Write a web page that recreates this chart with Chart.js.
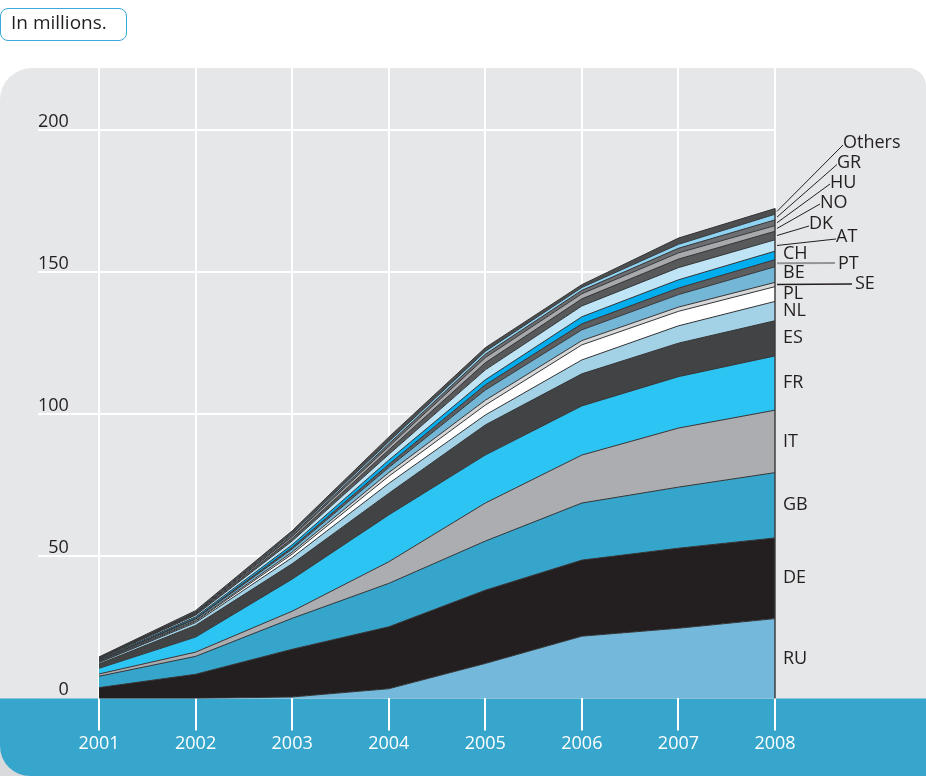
<!DOCTYPE html>
<html>
<head>
<meta charset="utf-8">
<script src="https://cdn.jsdelivr.net/npm/chart.js@4.4.1/dist/chart.umd.min.js"></script>
<style>
html,body{margin:0;padding:0;background:#fff;}
#wrap{position:relative;width:926px;height:776px;overflow:hidden;}
canvas{position:absolute;left:0;top:0;}
#unit{position:absolute;left:0;top:8px;width:127px;height:33px;box-sizing:border-box;border:1.5px solid #3aa8d8;border-radius:8px;font-family:'Open Sans',sans-serif;font-size:19px;color:#231f20;padding-left:10px;line-height:27px;background:#fff;}
</style>
</head>
<body>
<div id="wrap">
<canvas id="c" width="926" height="776"></canvas>
<div id="unit">In millions.</div>
</div>
<script>
// ---- data ----
const years = [2001, 2002, 2003, 2004, 2005, 2006, 2007, 2008];
const yTicks = [0, 50, 100, 150, 200];
const seriesNames = ['RU','DE','GB','IT','FR','ES','NL','PL','SE','BE','PT','CH','AT','DK','NO','HU','GR','Others'];
const RU     = [0,    0,   0.5,  3.4, 12.3, 21.9, 24.7, 28.1];
const DE     = [3.8,  8.5, 16.8, 21.8, 25.8, 26.8, 28.2, 28.4];
const GB     = [4.0,  6.3, 10.9, 15.3, 17.3, 20.1, 21.5, 23.0];
const IT     = [0.8,  1.5,  2.5,  7.6, 13.4, 16.9, 20.8, 22.0];
const FR     = [2.0,  5.3, 11.3, 16.5, 16.9, 17.3, 18.1, 19.1];
const ES     = [1.5,  4.1,  5.4,  7.6, 10.6, 11.3, 11.8, 12.4];
const NL     = [0.5,  1.0,  2.2,  3.5,  3.5,  4.9,  6.1,  6.8];
const PL     = [0.1,  0.4,  1.2,  2.5,  3.5,  5.3,  5.1,  5.2];
const SE     = [0.3,  0.3,  0.7,  1.3,  1.7,  1.5,  1.5,  1.5];
const BE     = [0.2,  0.5,  1.1,  1.8,  3.6,  3.8,  4.4,  5.5];
const PT     = [0.15, 0.3,  0.6,  1.1,  1.8,  2.1,  2.3,  2.5];
const CH     = [0.3,  0.5,  0.9,  1.5,  1.8,  2.5,  2.9,  3.0];
const AT     = [0.2,  0.6,  1.3,  2.0,  3.5,  3.8,  4.3,  4.0];
const DK     = [0.2,  0.4,  0.9,  1.6,  2.5,  2.5,  3.0,  3.0];
const NO     = [0.15, 0.3,  0.7,  1.2,  1.8,  1.8,  2.2,  2.0];
const HU     = [0.1,  0.2,  0.5,  0.9,  1.2,  1.2,  1.6,  2.0];
const GR     = [0.1,  0.2,  0.5,  0.8,  1.0,  1.0,  1.4,  2.0];
const Others = [0.2,  0.5,  1.0,  1.6,  1.3,  1.0,  2.2,  2.0];
const seriesValues = [RU, DE, GB, IT, FR, ES, NL, PL, SE, BE, PT, CH, AT, DK, NO, HU, GR, Others];

// ---- styles ----
const seriesColors = ['#74b9db','#231f20','#35a5cc','#abadb0','#2cc4f2','#414345','#a3d2e7','#ffffff','#d6d7d9','#74b6d6','#5d5e60','#00aeef','#bfe4f5','#58595b','#a7a9ac','#6d6e71','#8fd3f2','#4d4e50'];
const FONT = "'Open Sans', sans-serif";

const labelLayout = {
  RU: {dx: 8}, DE: {dx: 8}, GB: {dx: 8}, IT: {dx: 8}, FR: {dx: 8}, ES: {dx: 8}, NL: {dx: 8}, PL: {dx: 8},
  SE: {x: 855, y: 284, lead: [852, 284], lc: '#231f20', lw: 1.5},
  BE: {dx: 8, y: 273},
  PT: {x: 838, y: 263.5, lead: [835, 263], lc: '#939598', lw: 2},
  CH: {dx: 8, y: 254},
  AT: {x: 836, y: 236.5, lead: [836, 239], lc: '#231f20', lw: 1},
  DK: {x: 809, y: 224, lead: [809, 226], lc: '#231f20', lw: 1},
  NO: {x: 820, y: 202.5, lead: [820, 204], lc: '#231f20', lw: 1},
  HU: {x: 830, y: 182.5, lead: [830, 184], lc: '#231f20', lw: 1},
  GR: {x: 837, y: 163, lead: [837, 164.5], lc: '#231f20', lw: 1},
  Others: {x: 843, y: 143, lead: [843, 145], lc: '#231f20', lw: 1}
};

const bgPlugin = {
  id: 'bg',
  beforeDraw(chart) {
    const {ctx, chartArea, width, height} = chart;
    ctx.save();
    ctx.fillStyle = '#ffffff';
    ctx.fillRect(0, 0, width, height);
    ctx.fillStyle = '#e6e7e8';
    ctx.beginPath();
    ctx.roundRect(0, chartArea.top, width, height - chartArea.top, [32, 18, 0, 0]);
    ctx.fill();
    ctx.fillStyle = '#d9dadb';
    ctx.fillRect(0, chartArea.bottom, 40, height - chartArea.bottom);
    ctx.fillStyle = '#36a6cd';
    ctx.beginPath();
    ctx.roundRect(0, chartArea.bottom, width, height - chartArea.bottom, [0, 0, 0, 30]);
    ctx.fill();
    ctx.restore();
  }
};

const labelPlugin = {
  id: 'labels',
  afterDatasetsDraw(chart) {
    const {ctx, scales: {x, y}} = chart;
    const last = years.length - 1;
    const xr = x.getPixelForValue(years[last]);
    let cum = 0;
    const mids = [];
    seriesValues.forEach(v => { mids.push(cum + v[last] / 2); cum += v[last]; });
    ctx.save();
    ctx.strokeStyle = '#3b3b3d';
    ctx.lineWidth = 1.5;
    ctx.beginPath();
    ctx.moveTo(xr, y.getPixelForValue(0));
    ctx.lineTo(xr, y.getPixelForValue(cum));
    ctx.stroke();
    ctx.font = '18px ' + FONT;
    ctx.fillStyle = '#231f20';
    ctx.textBaseline = 'middle';
    ctx.textAlign = 'left';
    seriesNames.forEach((name, i) => {
      const lay = labelLayout[name];
      const py = y.getPixelForValue(mids[i]);
      const lx = lay.x !== undefined ? lay.x : xr + lay.dx;
      const ly = lay.y !== undefined ? lay.y : py;
      if (lay.lead) {
        ctx.strokeStyle = lay.lc;
        ctx.lineWidth = lay.lw;
        ctx.beginPath();
        ctx.moveTo(xr + 2, py);
        ctx.lineTo(lay.lead[0], lay.lead[1]);
        ctx.stroke();
      }
      ctx.fillText(name, lx, ly);
    });
    ctx.restore();
  }
};

const datasets = seriesNames.map((name, i) => ({
  label: name,
  data: years.map((yr, j) => ({x: yr, y: seriesValues[i][j]})),
  backgroundColor: seriesColors[i],
  borderColor: '#333436',
  borderWidth: 1,
  fill: i === 0 ? 'origin' : '-1',
  pointRadius: 0,
  tension: 0
}));

new Chart(document.getElementById('c'), {
  type: 'line',
  data: {datasets},
  options: {
    responsive: false,
    devicePixelRatio: 1,
    animation: false,
    layout: {padding: {left: 38, right: 151, top: 68, bottom: 18}},
    plugins: {legend: {display: false}, tooltip: {enabled: false}},
    scales: {
      x: {
        type: 'linear',
        min: 2000.368,
        max: 2008,
        afterBuildTicks: s => { s.ticks = years.map(v => ({value: v})); },
        grid: {color: '#ffffff', lineWidth: 2, drawTicks: true, tickLength: 32, tickColor: '#ffffff', tickWidth: 2},
        border: {display: false},
        ticks: {color: '#ffffff', font: {family: FONT, size: 18}, padding: 3, maxRotation: 0, autoSkip: false, callback: v => String(v)}
      },
      y: {
        stacked: true,
        min: 0,
        max: 222,
        afterBuildTicks: s => { s.ticks = yTicks.map(v => ({value: v})); },
        grid: {color: c => (c.tick && c.tick.value === 0) ? 'rgba(0,0,0,0)' : '#ffffff', lineWidth: 2, drawTicks: false},
        border: {display: false},
        ticks: {mirror: true, crossAlign: 'far', padding: 0, labelOffset: -9, color: '#231f20', font: {family: FONT, size: 18}}
      }
    }
  },
  plugins: [bgPlugin, labelPlugin]
});
</script>
</body>
</html>
